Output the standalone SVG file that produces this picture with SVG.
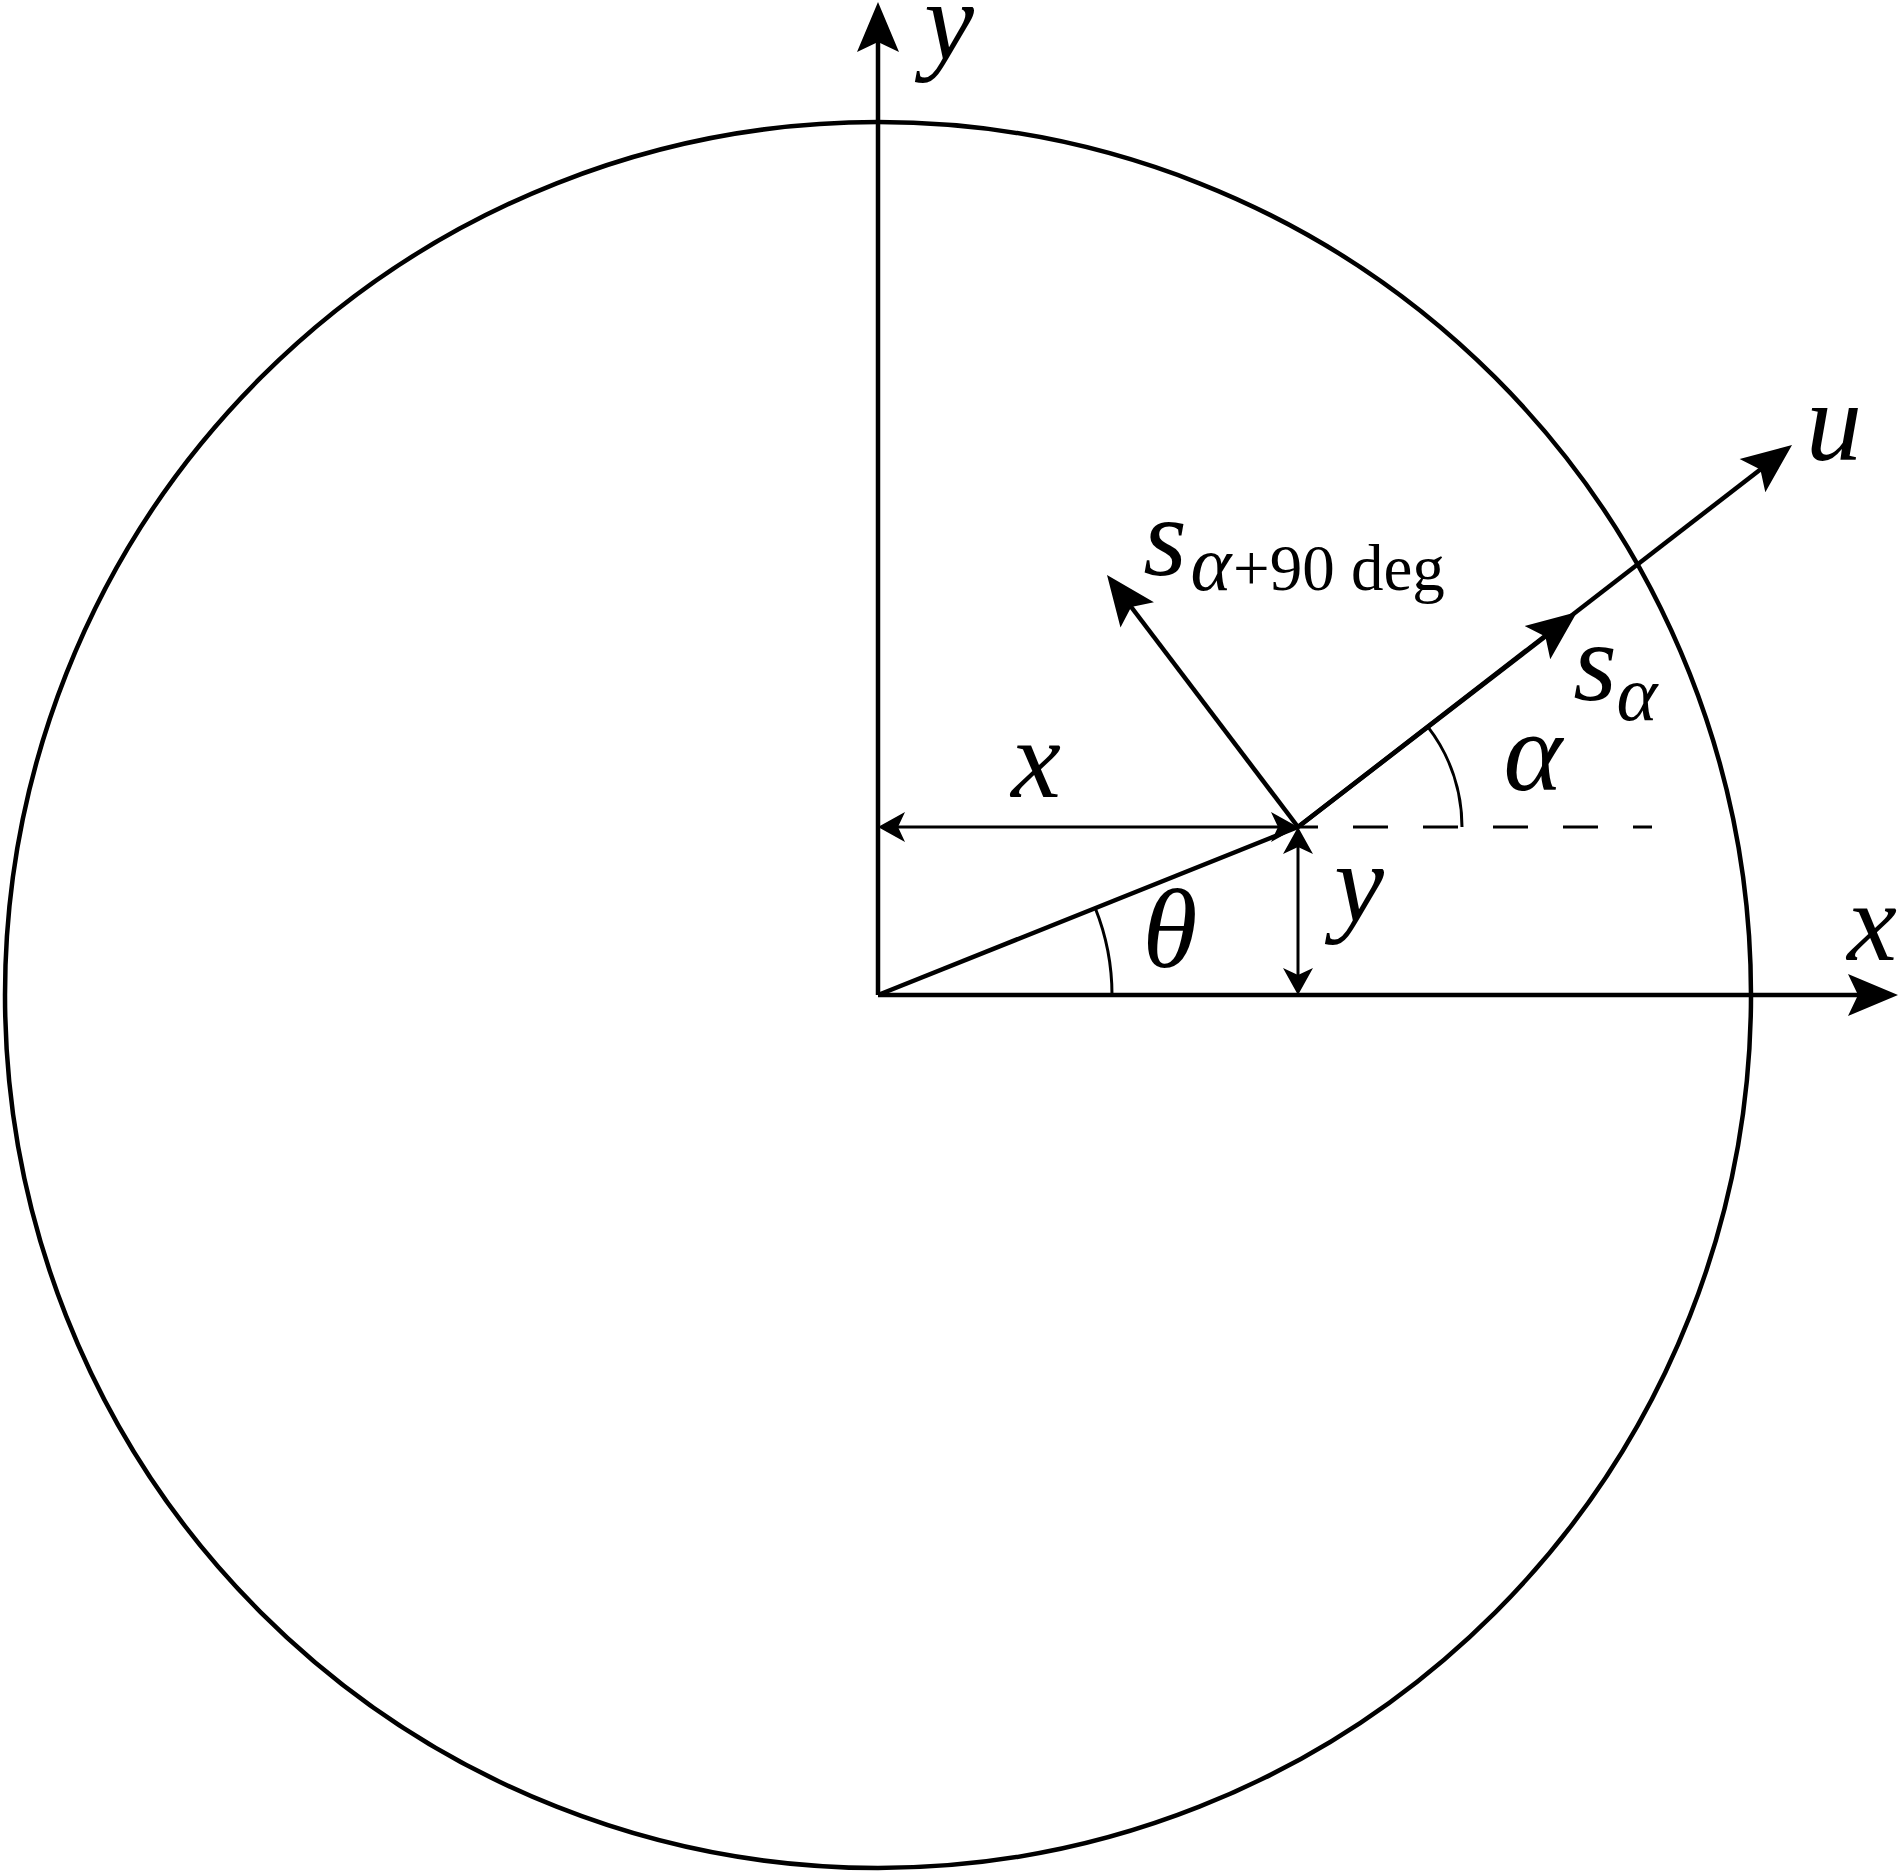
<svg xmlns="http://www.w3.org/2000/svg" width="1902" height="1873" viewBox="0 0 1902 1873">
<style>
.thick{stroke:#000;stroke-width:4.5;fill:none}
.thin{stroke:#000;stroke-width:3;fill:none}
.lbl{font-family:"Liberation Serif","Times New Roman",serif;font-style:italic;font-size:112px;fill:#000}
.sub{font-family:"Liberation Serif","Times New Roman",serif;font-style:italic;font-size:78px;fill:#000}
.rm{font-family:"Liberation Serif","Times New Roman",serif;font-size:65px;fill:#000}
</style>
<defs>
<marker id="big" markerUnits="userSpaceOnUse" markerWidth="80" markerHeight="60" viewBox="-40 -30 80 60" refX="0" refY="0" orient="auto-start-reverse" overflow="visible">
<path d="M20,0 L-30,-21 L-20,0 L-30,21 Z" fill="#000"/>
</marker>
<marker id="small" markerUnits="userSpaceOnUse" markerWidth="60" markerHeight="40" viewBox="-30 -20 60 40" refX="0" refY="0" orient="auto-start-reverse" overflow="visible">
<path d="M8,0 L-19,-15 L-12,0 L-19,15 Z" fill="#000"/>
</marker>
</defs>
<rect width="1902" height="1873" fill="#fff"/>
<g id="circle"><circle cx="878" cy="995" r="873" class="thick" stroke-width="5"/></g>
<g id="connectors">
<line id="y-axis" x1="878" y1="995" x2="878" y2="22" class="thick" marker-end="url(#big)"/>
<line id="x-axis" x1="878" y1="995" x2="1878" y2="995" class="thick" marker-end="url(#big)"/>
<line id="u-axis" x1="1298" y1="827" x2="1776.2" y2="457.2" class="thick" marker-end="url(#big)"/>
<line id="s-alpha" x1="1298" y1="827" x2="1561.2" y2="624.2" class="thick" marker-end="url(#big)"/>
<line id="s-alpha90" x1="1298" y1="827" x2="1119.1" y2="591" class="thick" marker-end="url(#big)"/>
<line id="op" x1="878" y1="995" x2="1298" y2="827" class="thick" stroke-width="5"/>
<line id="x-dim" x1="886" y1="827" x2="1290" y2="827" class="thin" marker-start="url(#small)" marker-end="url(#small)"/>
<line id="y-dim" x1="1298" y1="835" x2="1298" y2="987" class="thin" marker-start="url(#small)" marker-end="url(#small)"/>
<line id="dash" x1="1298" y1="827" x2="1652" y2="827" class="thin" stroke-dasharray="35 35" stroke-dashoffset="15"/>
<path id="theta-arc" d="M1112,995 A234,234 0 0 0 1095.3,908.3" class="thin"/>
<path id="alpha-arc" d="M1462,827 A164,164 0 0 0 1427.7,726.7" class="thin"/>
</g>
<g id="labels">
<text class="lbl" x="949" y="59" text-anchor="middle">y</text>
<text class="lbl" x="1834" y="460" text-anchor="middle">u</text>
<text class="lbl" x="1872" y="960" text-anchor="middle">x</text>
<text class="lbl" x="1036" y="797" text-anchor="middle">x</text>
<text class="lbl" x="1359" y="921" text-anchor="middle">y</text>
<text class="lbl" x="1170" y="967" text-anchor="middle" font-size="100">θ</text>
<text class="lbl" x="1533" y="790" text-anchor="middle">α</text>
<text class="lbl" x="1595" y="700" text-anchor="middle">s</text>
<text class="sub" x="1637" y="720" text-anchor="middle">α</text>
<text class="lbl" x="1165" y="575" text-anchor="middle">s</text>
<text class="sub" x="1211" y="590" text-anchor="middle">α</text>
<text class="rm" x="1233" y="590">+90 deg</text>
</g>
</svg>
